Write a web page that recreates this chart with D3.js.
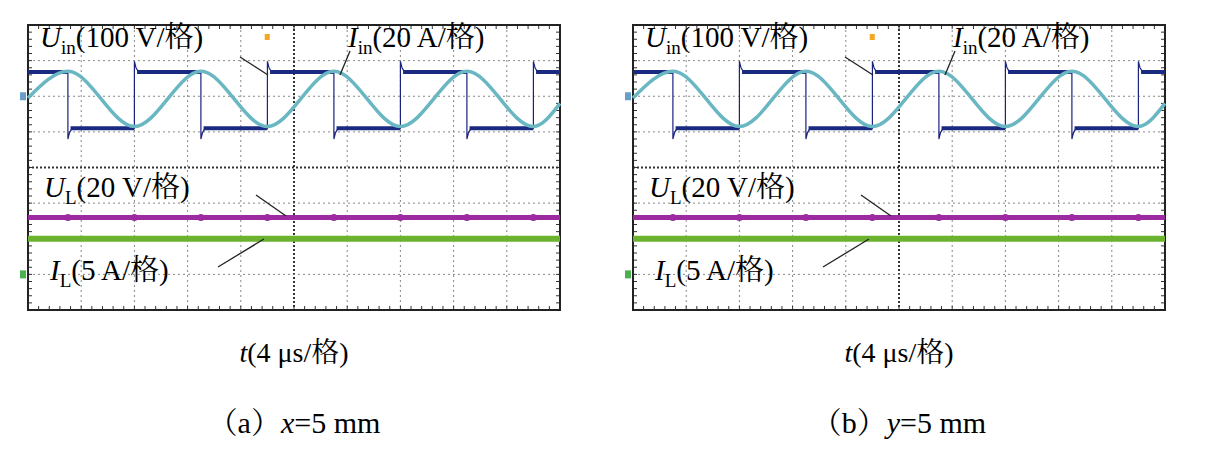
<!DOCTYPE html>
<html><head><meta charset="utf-8">
<script src="https://cdn.jsdelivr.net/npm/d3@7/dist/d3.min.js"></script>
<style>body{margin:0;background:#fff}text{font-family:"Liberation Serif","Noto Serif CJK SC","Noto Sans CJK SC",serif}</style>
</head><body><div id="c"></div>
<script>
// time in divisions (4 us/div), amplitude in divisions from top of screen
var edgeTimes = [0.75, 2.0, 3.25, 4.5, 5.75, 7.0, 8.25, 9.5];
var uinHigh = 1.32, uinLow = 2.9;
var iinTimes = [0, 0.75, 2.0, 3.25, 4.5, 5.75, 7.0, 8.25, 9.5, 10];
var iinValues = [2.05, 1.3, 2.85, 1.3, 2.85, 1.3, 2.85, 1.3, 2.85, 2.2];
var ulLevel = 5.4, ilLevel = 6.0;
var panels = [
  {left: 28, cap: "（a）", v: "x", val: "=5 mm"},
  {left: 633, cap: "（b）", v: "y", val: "=5 mm"}
];

var W = 1219, H = 470, pw = 532, plotTop = 25, ph = 285;
var svg = d3.select("#c").append("svg").attr("width", W).attr("height", H);

panels.forEach(function(p){
  var g = svg.append("g").attr("transform", "translate(" + p.left + "," + plotTop + ")");
  var x = d3.scaleLinear().domain([0, 10]).range([0, pw]);
  var y = d3.scaleLinear().domain([0, 8]).range([0, ph]);

  // grid
  d3.range(1, 10).forEach(function(i){
    g.append("line").attr("x1", x(i)).attr("x2", x(i)).attr("y1", 0).attr("y2", ph)
      .attr("stroke", i == 5 ? "#333" : "#888").attr("stroke-width", i == 5 ? 2 : 1)
      .attr("stroke-dasharray", i == 5 ? "2,2" : "2,3");
  });
  d3.range(1, 8).forEach(function(i){
    g.append("line").attr("y1", y(i)).attr("y2", y(i)).attr("x1", 0).attr("x2", pw)
      .attr("stroke", i == 4 ? "#333" : "#888").attr("stroke-width", i == 4 ? 2 : 1)
      .attr("stroke-dasharray", i == 4 ? "2,2" : "2,3");
  });
  // minor ticks on border
  d3.range(0, 50).forEach(function(i){
    var xx = x(i / 5);
    g.append("line").attr("x1", xx).attr("x2", xx).attr("y1", 0).attr("y2", 4).attr("stroke", "#333");
    g.append("line").attr("x1", xx).attr("x2", xx).attr("y1", ph - 4).attr("y2", ph).attr("stroke", "#333");
  });
  d3.range(0, 40).forEach(function(i){
    var yy = y(i / 5);
    g.append("line").attr("y1", yy).attr("y2", yy).attr("x1", 0).attr("x2", 4).attr("stroke", "#333");
    g.append("line").attr("y1", yy).attr("y2", yy).attr("x1", pw - 4).attr("x2", pw).attr("stroke", "#333");
  });
  g.append("rect").attr("width", pw).attr("height", ph).attr("fill", "none").attr("stroke", "#222").attr("stroke-width", 2);

  // Uin square wave
  var pts = [[0, uinHigh]], lvl = uinHigh;
  edgeTimes.forEach(function(t){
    var nl = lvl == uinHigh ? uinLow : uinHigh;
    var spike = nl == uinHigh ? -0.3 : 0.3;
    pts.push([t, lvl], [t, nl + spike], [t + 0.03, nl + spike * 0.4], [t + 0.08, nl]);
    lvl = nl;
  });
  pts.push([10, lvl]);
  var line = d3.line().x(function(d){ return x(d[0]); }).y(function(d){ return y(d[1]); });
  g.append("path").datum(pts).attr("d", line).attr("fill", "none").attr("stroke", "#1a237e").attr("stroke-width", 1.2);
  // thick level segments
  var segs = [[0, edgeTimes[0], uinHigh]];
  edgeTimes.forEach(function(t, i){
    segs.push([t + 0.05, i + 1 < edgeTimes.length ? edgeTimes[i + 1] : 10, i % 2 == 0 ? uinLow : uinHigh]);
  });
  g.selectAll(".seg").data(segs).enter().append("line")
    .attr("x1", function(d){ return x(d[0]); }).attr("x2", function(d){ return x(d[1]); })
    .attr("y1", function(d){ return y(d[2]); }).attr("y2", function(d){ return y(d[2]); })
    .attr("stroke", "#1a2a80").attr("stroke-width", 4);

  // Iin
  g.append("path").datum(iinTimes.map(function(t, i){ return [t, iinValues[i]]; }))
    .attr("d", line.curve(d3.curveMonotoneX)).attr("fill", "none").attr("stroke", "#6ab7c3").attr("stroke-width", 3.5);

  // UL, IL
  g.append("line").attr("x1", 0).attr("x2", pw).attr("y1", y(ulLevel)).attr("y2", y(ulLevel))
    .attr("stroke", "#9c2aa0").attr("stroke-width", 5);
  g.selectAll(".ulm").data(edgeTimes).enter().append("circle")
    .attr("cx", function(d){ return x(d); }).attr("cy", y(ulLevel)).attr("r", 3.5).attr("fill", "#9c2aa0");
  g.append("line").attr("x1", 0).attr("x2", pw).attr("y1", y(ilLevel)).attr("y2", y(ilLevel))
    .attr("stroke", "#6bb22f").attr("stroke-width", 6);

  // side markers
  g.append("rect").attr("x", -8).attr("y", y(2.0) - 4).attr("width", 6).attr("height", 8).attr("fill", "#6a9ec8");
  g.append("rect").attr("x", -8).attr("y", y(7.0) - 4).attr("width", 6).attr("height", 8).attr("fill", "#4caf50");
  g.append("rect").attr("x", x(4.45)).attr("y", 9).attr("width", 5).attr("height", 6).attr("fill", "#f5a623");

  // labels
  function lab(xx, yy, main, sub, rest){
    var t = g.append("text").attr("x", xx).attr("y", yy).attr("font-size", 29);
    t.append("tspan").attr("font-style", "italic").text(main);
    t.append("tspan").attr("font-size", 19).attr("dy", 7).text(sub);
    t.append("tspan").attr("dy", -7).text(rest);
  }
  lab(12, 22, "U", "in", "(100 V/格)");
  lab(320, 22, "I", "in", "(20 A/格)");
  lab(16, 172, "U", "L", "(20 V/格)");
  lab(22, 255, "I", "L", "(5 A/格)");
  var leaders = [[212, 32, 240, 50], [322, 26, 312, 50], [228, 170, 258, 191], [190, 242, 236, 214]];
  g.selectAll(".ld").data(leaders).enter().append("line")
    .attr("x1", function(d){ return d[0]; }).attr("y1", function(d){ return d[1]; })
    .attr("x2", function(d){ return d[2]; }).attr("y2", function(d){ return d[3]; })
    .attr("stroke", "#222").attr("stroke-width", 1.3);

  var t = svg.append("text").attr("x", p.left + pw / 2).attr("y", 362).attr("text-anchor", "middle").attr("font-size", 28);
  t.append("tspan").attr("font-style", "italic").text("t");
  t.append("tspan").text("(4 μs/格)");
  var c = svg.append("text").attr("x", p.left + pw / 2).attr("y", 433).attr("text-anchor", "middle").attr("font-size", 30);
  c.append("tspan").text(p.cap);
  c.append("tspan").attr("font-style", "italic").text(p.v);
  c.append("tspan").text(p.val);
});
</script></body></html>
